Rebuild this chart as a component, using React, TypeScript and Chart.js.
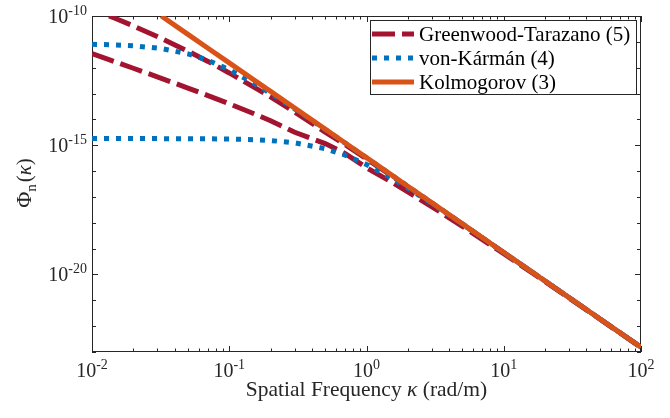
import React, { useEffect, useRef } from "react";
import { Chart, registerables } from "chart.js";

Chart.register(...registerables);

// Spatial frequency samples (rad/m)
const kappa = [0.01, 0.0133, 0.015, 0.02, 0.032, 0.05, 0.07, 0.1, 0.15, 0.2, 0.3, 0.5, 0.7, 1, 1.5, 2, 3, 5, 10, 20, 50, 100];

// (log-log curves)
const kolmogorov = [null, null, null, null, 1.0e-10, 1.94e-11, 5.67e-12, 1.53e-12, 3.47e-13, 1.21e-13, 2.73e-14, 4.19e-15, 1.22e-15, 3.3e-16, 7.47e-17, 2.6e-17, 5.88e-18, 9.03e-19, 7.11e-20, 5.6e-21, 1.94e-22, 1.53e-23];
const vonKarmanLarge = [8.04e-12, 7.77e-12, 7.6e-12, 7.05e-12, 5.51e-12, 3.42e-12, 1.92e-12, 8.32e-13, 2.57e-13, 1.01e-13, 2.52e-14, 4.07e-15, 1.2e-15, 3.28e-16, 7.44e-17, 2.59e-17, 5.87e-18, 9.02e-19, 7.11e-20, 5.6e-21, 1.94e-22, 1.53e-23];
const vonKarmanSmall = [1.81e-15, 1.81e-15, 1.81e-15, 1.81e-15, 1.8e-15, 1.79e-15, 1.77e-15, 1.73e-15, 1.64e-15, 1.52e-15, 1.24e-15, 7.38e-16, 4.13e-16, 1.79e-16, 5.55e-17, 2.19e-17, 5.43e-18, 8.77e-19, 7.06e-20, 5.59e-21, 1.94e-22, 1.53e-23];
const greenwoodLarge = [null, 1.0e-10, 7.86e-11, 4.14e-11, 1.36e-11, 4.37e-12, 1.75e-12, 6.27e-13, 1.82e-13, 7.47e-14, 1.93e-14, 3.23e-15, 1.04e-15, 2.95e-16, 6.92e-17, 2.46e-17, 5.66e-18, 8.82e-19, 7.03e-20, 5.57e-21, 1.94e-22, 1.53e-23];
const greenwoodSmall = [3.49e-12, 2.05e-12, 1.63e-12, 9.51e-13, 3.89e-13, 1.63e-13, 8.35e-14, 4.02e-14, 1.69e-14, 8.91e-15, 3.17e-15, 1.16e-15, 4.75e-16, 1.35e-16, 3.93e-17, 1.57e-17, 4.15e-18, 7.27e-19, 6.36e-20, 5.29e-21, 1.9e-22, 1.51e-23];

const xTickExps = [-2, -1, 0, 1, 2];
const yLabelExps = [-20, -15, -10];
const yDecades = [-23, -22, -21, -20, -19, -18, -17, -16, -15, -14, -13, -12, -11, -10];
const legendLabels = ["Greenwood-Tarazano (5)", "von-Kármán (4)", "Kolmogorov (3)"];
const xTitle = ["Spatial Frequency ", "κ", " (rad/m)"];

const C_GT = "#A2142F";
const C_VK = "#0072BD";
const C_K = "#D95319";
const TXT = "#262626";
const FONT = '"Liberation Serif", "Times New Roman", serif';

const GT_DASH = [23, 7];
const VK_DASH = [5, 7];
const LW = 5;

function pts(arr: (number | null)[]) {
  return kappa.map((k, i) => ({ x: k, y: arr[i] }));
}

function drawPow(ctx: CanvasRenderingContext2D, x: number, y: number, exp: number, align: string, bs: number, es: number) {
  ctx.font = `${bs}px ${FONT}`;
  const wb = ctx.measureText("10").width;
  const estr = exp < 0 ? "-" + String(-exp) : String(exp);
  ctx.font = `${es}px ${FONT}`;
  const we = ctx.measureText(estr).width;
  const total = wb + we;
  const x0 = align === "center" ? x - total / 2 : x - total;
  ctx.textAlign = "left";
  ctx.textBaseline = "alphabetic";
  ctx.font = `${bs}px ${FONT}`;
  ctx.fillText("10", x0, y);
  ctx.font = `${es}px ${FONT}`;
  ctx.fillText(estr, x0 + wb, y - bs * 0.42);
}

const axesPlugin = {
  id: "matlabAxes",
  beforeDatasetsDraw(chart: any) {
    const { ctx, chartArea: a, scales } = chart;
    const xs = scales.x;
    const ys = scales.y;
    ctx.save();
    ctx.strokeStyle = TXT;
    ctx.lineWidth = 1;
    ctx.strokeRect(a.left + 0.5, a.top + 0.5, a.right - a.left - 1, a.bottom - a.top - 1);
    ctx.beginPath();
    for (const e of xTickExps) {
      for (let m = 1; m <= 9; m++) {
        if (e === 2 && m > 1) break;
        const v = m * Math.pow(10, e);
        const px = Math.round(xs.getPixelForValue(v)) + 0.5;
        const len = m === 1 ? 6 : 3.5;
        ctx.moveTo(px, a.bottom);
        ctx.lineTo(px, a.bottom - len);
        ctx.moveTo(px, a.top);
        ctx.lineTo(px, a.top + len);
      }
    }
    for (const e of yDecades) {
      const py = Math.round(ys.getPixelForValue(Math.pow(10, e))) + 0.5;
      const len = yLabelExps.includes(e) ? 6 : 4;
      ctx.moveTo(a.left, py);
      ctx.lineTo(a.left + len, py);
      ctx.moveTo(a.right, py);
      ctx.lineTo(a.right - len, py);
    }
    ctx.stroke();
    ctx.restore();
  },
  afterDraw(chart: any) {
    const { ctx, chartArea: a, scales } = chart;
    const xs = scales.x;
    const ys = scales.y;
    ctx.save();
    ctx.fillStyle = TXT;
    // x tick labels
    for (const e of xTickExps) {
      const px = xs.getPixelForValue(Math.pow(10, e));
      drawPow(ctx, px, 377, e, "center", 20, 14);
    }
    // y tick labels
    for (const e of yLabelExps) {
      const py = ys.getPixelForValue(Math.pow(10, e));
      drawPow(ctx, 87, py + 7, e, "right", 20, 14);
    }
    // x title
    ctx.textBaseline = "alphabetic";
    ctx.textAlign = "left";
    const fs = 21.5;
    const fN = `${fs}px ${FONT}`;
    const fI = `italic ${fs}px ${FONT}`;
    ctx.font = fN;
    const w0 = ctx.measureText(xTitle[0]).width;
    const w2 = ctx.measureText(xTitle[2]).width;
    ctx.font = fI;
    const w1 = ctx.measureText(xTitle[1]).width;
    const cx = (a.left + a.right) / 2;
    let tx = cx - (w0 + w1 + w2) / 2;
    const ty = 396;
    ctx.font = fN; ctx.fillText(xTitle[0], tx, ty); tx += w0;
    ctx.font = fI; ctx.fillText(xTitle[1], tx, ty); tx += w1;
    ctx.font = fN; ctx.fillText(xTitle[2], tx, ty);
    // y title (rotated)
    ctx.save();
    ctx.translate(31, (a.top + a.bottom) / 2);
    ctx.rotate(-Math.PI / 2);
    const parts = [
      { t: "Φ", f: `22px ${FONT}`, dy: 0 },
      { t: "n", f: `15px ${FONT}`, dy: 5 },
      { t: "(", f: `21px ${FONT}`, dy: 0 },
      { t: "κ", f: `italic 21px ${FONT}`, dy: 0 },
      { t: ")", f: `21px ${FONT}`, dy: 0 },
    ];
    let tw = 0;
    const ws: number[] = [];
    for (const p of parts) { ctx.font = p.f; const w = ctx.measureText(p.t).width; ws.push(w); tw += w; }
    let yx = -tw / 2;
    parts.forEach((p, i) => {
      ctx.font = p.f;
      ctx.fillText(p.t, yx, p.dy);
      yx += ws[i] + (i === 1 ? 2 : 0);
    });
    ctx.restore();
    // legend
    const lx = 370, ly = 20, lw = 266, lh = 74;
    ctx.fillStyle = "#ffffff";
    ctx.fillRect(lx, ly, lw, lh);
    ctx.strokeStyle = TXT;
    ctx.lineWidth = 1;
    ctx.strokeRect(lx + 0.5, ly + 0.5, lw, lh);
    const rows = [34, 58, 82];
    const styles = [
      { c: C_GT, d: GT_DASH },
      { c: C_VK, d: VK_DASH },
      { c: C_K, d: [] as number[] },
    ];
    rows.forEach((ry, i) => {
      ctx.beginPath();
      ctx.strokeStyle = styles[i].c;
      ctx.lineWidth = LW;
      ctx.setLineDash(styles[i].d);
      ctx.moveTo(372, ry);
      ctx.lineTo(414, ry);
      ctx.stroke();
      ctx.setLineDash([]);
      ctx.fillStyle = "#000000";
      ctx.font = `21px ${FONT}`;
      ctx.textAlign = "left";
      ctx.fillText(legendLabels[i], 419, ry + 7);
    });
    ctx.restore();
  },
};

export default function App() {
  const ref = useRef<HTMLCanvasElement | null>(null);
  useEffect(() => {
    if (!ref.current) return;
    const mk = (label: string, data: (number | null)[], color: string, dash: number[], order: number) => ({
      label,
      data: pts(data),
      borderColor: color,
      backgroundColor: color,
      borderWidth: LW,
      borderDash: dash,
      pointRadius: 0,
      tension: 0,
      fill: false,
      clip: 0,
      order,
      spanGaps: false,
    });
    const chart = new Chart(ref.current, {
      type: "line",
      data: {
        datasets: [
          mk(legendLabels[2], kolmogorov, C_K, [], 0),
          mk(legendLabels[1], vonKarmanLarge, C_VK, VK_DASH, 1),
          mk(legendLabels[1], vonKarmanSmall, C_VK, VK_DASH, 2),
          mk(legendLabels[0], greenwoodLarge, C_GT, GT_DASH, 3),
          mk(legendLabels[0], greenwoodSmall, C_GT, GT_DASH, 4),
        ] as any,
      },
      options: {
        animation: false,
        responsive: false,
        maintainAspectRatio: false,
        layout: { padding: { left: 92, right: 29, top: 16, bottom: 66 } },
        plugins: { legend: { display: false }, tooltip: { enabled: false }, title: { display: false } },
        scales: {
          x: { type: "logarithmic", min: 0.01, max: 100, display: false },
          y: { type: "logarithmic", min: 1e-23, max: 1e-10, display: false },
        },
      },
      plugins: [axesPlugin],
    });
    return () => chart.destroy();
  }, []);
  return (
    <div style={{ position: "absolute", left: 0, top: 0, width: 670, height: 418, background: "#fff" }}>
      <canvas ref={ref} width={670} height={418} style={{ display: "block" }} />
    </div>
  );
}
